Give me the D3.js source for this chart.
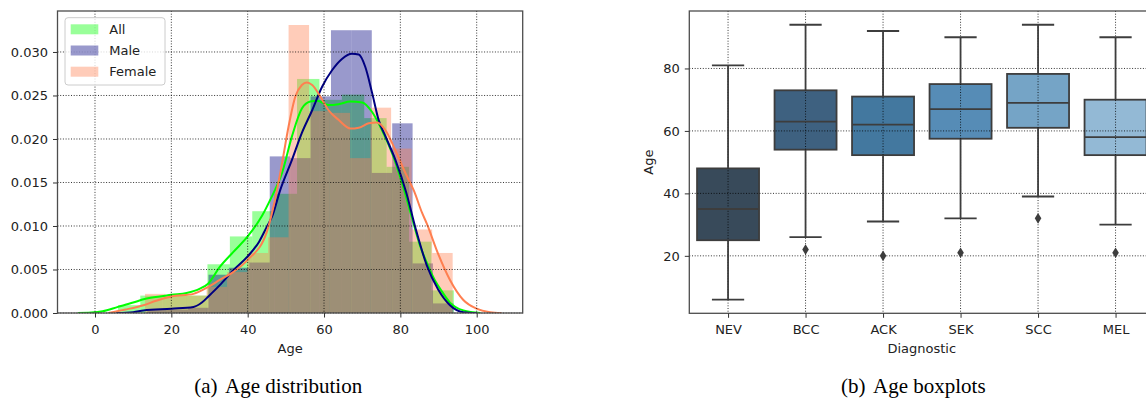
<!DOCTYPE html>
<html><head><meta charset="utf-8">
<script src="https://cdn.jsdelivr.net/npm/d3@7"></script>
<style>
body{margin:0;background:#fff}
svg{display:block}
</style>
</head><body>
<svg id="c" width="1146" height="401"></svg>
<script>
// ---------------- DATA ----------------
const seriesNames = ["All", "Male", "Female"];

// histogram bin ranges (age) and densities per equal-width bin
const allBinRange = [6, 94];
const allHist = [0.0009, 0.0020, 0.0020, 0.0020, 0.0056, 0.0088, 0.0117, 0.0137, 0.0269, 0.0245, 0.0251, 0.0224, 0.0168, 0.0082, 0.0026];
const maleBinRange = [13.7, 93.9];
const maleHist = [0.0004, 0.0004, 0.0006, 0.0044, 0.0052, 0.0058, 0.0180, 0.0178, 0.0249, 0.0325, 0.0325, 0.0161, 0.0218, 0.0057, 0.0011];
const femaleBinRange = [13.1, 93.7];
const femaleHist = [0.0022, 0.0020, 0.0020, 0.0030, 0.0047, 0.0069, 0.0087, 0.0331, 0.0232, 0.0230, 0.0178, 0.0236, 0.0189, 0.0096, 0.0069];

// KDE curves: [age, density]
const allKde = [[-4.5,0],[-1,0.00005],[2,0.0002],[6,0.0007],[10,0.0012],[13,0.0016],[17,0.0019],[20,0.0021],[24,0.0023],[27.5,0.0028],[29.7,0.0034],[32.7,0.0053],[36.2,0.0070],[40,0.0088],[43.8,0.0112],[45.9,0.0130],[49,0.0161],[51.6,0.0203],[54.2,0.0235],[56.4,0.0243],[58.2,0.0244],[61.2,0.0239],[63.8,0.0240],[66.9,0.0243],[70,0.0242],[72.6,0.0231],[75.2,0.0210],[77.8,0.0184],[80.4,0.0150],[83,0.0110],[85.1,0.0078],[87,0.0057],[89,0.0038],[91,0.0024],[93,0.0012],[96.5,0.0003],[101,0]];
const maleKde = [[5.5,0],[10,0.0001],[12.7,0.0003],[20,0.0005],[25.8,0.0007],[28,0.0012],[29.7,0.0019],[32.7,0.0032],[36.2,0.0049],[40,0.0065],[43,0.0082],[45,0.0099],[46.4,0.0111],[48.5,0.0141],[51.6,0.0176],[54.2,0.0207],[56.9,0.0233],[59.5,0.0260],[62.1,0.0279],[64.7,0.0292],[67.3,0.0298],[69.1,0.0297],[70.8,0.0283],[72.6,0.0253],[74.3,0.0222],[76.1,0.0203],[78.7,0.0176],[81.5,0.0139],[84,0.0097],[86.9,0.0055],[89.9,0.0027],[93,0.0009],[96.5,0.0001],[100,0]];
const femaleKde = [[3.5,0],[8,0.0004],[12.7,0.0009],[16,0.0014],[20,0.0019],[25.8,0.0022],[29.7,0.0030],[32.7,0.0038],[36.2,0.0047],[40,0.0061],[45,0.0093],[47,0.0127],[49,0.0172],[50.7,0.0214],[52.5,0.0249],[54.2,0.0262],[55.5,0.0265],[56.9,0.0262],[59,0.0249],[61.2,0.0233],[63.8,0.0222],[66.9,0.0212],[69.1,0.0213],[71.7,0.0218],[73.9,0.0219],[76.1,0.0210],[78.7,0.0187],[81.3,0.0161],[83.6,0.0140],[85.7,0.0115],[86.9,0.0103],[89.9,0.0068],[93,0.0038],[96.5,0.0015],[100,0.0005],[103.5,0.0001],[106.5,0]];

const distXTicks = [0, 20, 40, 60, 80, 100];
const distYTicks = [0, 0.005, 0.010, 0.015, 0.020, 0.025, 0.030];

const diagnostics = ["NEV", "BCC", "ACK", "SEK", "SCC", "MEL"];
const boxLowWhisker  = [6, 26, 31, 32, 39, 30];
const boxQ1          = [25, 54, 52.25, 57.5, 61, 52.25];
const boxMedian      = [35, 63, 62, 67, 69, 58];
const boxQ3          = [48, 73, 71, 75, 78.25, 70];
const boxHighWhisker = [81, 94, 92, 90, 94, 90];
const boxOutliers    = [[], [22], [20], [21], [32], [21]];
const boxYTicks = [20, 40, 60, 80];

// ---------------- STYLE ----------------
const seriesColors = ["#00ff00", "#000080", "#ff7f50"];
const boxPalette = ["#384a5a", "#3e6180", "#43789f", "#568cb6", "#75a4c6", "#93b9d5"];
const lineGray = "#3d3d3d";
const FONT = "DejaVu Sans";

const svg = d3.select("#c");

function styleAxis(g) {
  g.attr("font-family", FONT).attr("font-size", 13);
  g.select(".domain").remove();
  g.selectAll(".tick line").attr("stroke", "#333").attr("stroke-width", 1);
  g.selectAll(".tick text").attr("fill", "#222");
}
function gridLine(g, x1, y1, x2, y2) {
  g.append("line").attr("x1", x1).attr("y1", y1).attr("x2", x2).attr("y2", y2)
    .attr("stroke", "#000").attr("stroke-width", 0.8).attr("stroke-dasharray", "1,1.7");
}

// ================= LEFT: Age distribution =================
const L = {left: 57.5, right: 522.7, top: 11, bottom: 313};
const xD = d3.scaleLinear().domain([-9.82, 112.05]).range([L.left, L.right]);
const yD = d3.scaleLinear().domain([0, 0.03471]).range([L.bottom, L.top]);

svg.append("clipPath").attr("id", "clipL").append("rect")
  .attr("x", L.left).attr("y", L.top).attr("width", L.right - L.left).attr("height", L.bottom - L.top);

const gL = svg.append("g");
const plotL = gL.append("g").attr("clip-path", "url(#clipL)");

const histSets = [
  {range: allBinRange, vals: allHist},
  {range: maleBinRange, vals: maleHist},
  {range: femaleBinRange, vals: femaleHist}
];
histSets.forEach((h, si) => {
  const n = h.vals.length, w = (h.range[1] - h.range[0]) / n;
  plotL.append("g").selectAll("rect").data(h.vals).join("rect")
    .attr("x", (d, i) => xD(h.range[0] + i * w))
    .attr("width", (d, i) => xD(h.range[0] + (i + 1) * w) - xD(h.range[0] + i * w))
    .attr("y", d => yD(d))
    .attr("height", d => yD(0) - yD(d))
    .attr("fill", seriesColors[si]).attr("fill-opacity", 0.4);
});

// grid
const gridL = gL.append("g");
distXTicks.forEach(t => gridLine(gridL, xD(t), L.top, xD(t), L.bottom));
distYTicks.forEach(t => gridLine(gridL, L.left, yD(t), L.right, yD(t)));

// KDE lines
const kdeLine = d3.line().x(d => xD(d[0])).y(d => yD(d[1])).curve(d3.curveMonotoneX);
[allKde, maleKde, femaleKde].forEach((k, si) => {
  plotL.append("path").attr("d", kdeLine(k)).attr("fill", "none")
    .attr("stroke", seriesColors[si]).attr("stroke-width", 2).attr("stroke-linejoin", "round");
});

// frame
gL.append("rect").attr("x", L.left).attr("y", L.top).attr("width", L.right - L.left).attr("height", L.bottom - L.top)
  .attr("fill", "none").attr("stroke", "#4d4d4d").attr("stroke-width", 1.3);

// axes
gL.append("g").attr("transform", `translate(0,${L.bottom})`)
  .call(d3.axisBottom(xD).tickValues(distXTicks).tickSize(4.5).tickPadding(7).tickFormat(d3.format("d")))
  .call(styleAxis);
gL.append("g").attr("transform", `translate(${L.left},0)`)
  .call(d3.axisLeft(yD).tickValues(distYTicks).tickSize(4.5).tickPadding(5).tickFormat(d3.format(".3f")))
  .call(styleAxis);

gL.append("text").attr("x", (L.left + L.right) / 2).attr("y", 352.5).attr("text-anchor", "middle")
  .attr("font-family", FONT).attr("font-size", 13).attr("fill", "#222").text("Age");

// legend
const leg = gL.append("g");
leg.append("rect").attr("x", 65).attr("y", 17.7).attr("width", 100).attr("height", 67.3).attr("rx", 3)
  .attr("fill", "#fff").attr("fill-opacity", 0.8).attr("stroke", "#cccccc").attr("stroke-width", 1);
seriesNames.forEach((name, i) => {
  const cy = 29.3 + i * 21.2;
  leg.append("rect").attr("x", 70.7).attr("y", cy - 5).attr("width", 27.6).attr("height", 10)
    .attr("fill", seriesColors[i]).attr("fill-opacity", 0.4);
  leg.append("text").attr("x", 109.3).attr("y", cy + 4.7)
    .attr("font-family", FONT).attr("font-size", 13).attr("fill", "#222").text(name);
});

// caption
const capA = svg.append("text").attr("x", 194.3).attr("y", 393)
  .attr("font-family", "Liberation Serif").attr("font-size", 21).attr("fill", "#000");
capA.append("tspan").text("(a)");
capA.append("tspan").attr("dx", 7.5).text("Age distribution");

// ================= RIGHT: Age boxplots =================
const R = {left: 689.3, right: 1154.3, top: 11, bottom: 313.3};
const xB = d3.scalePoint().domain(diagnostics).range([R.left, R.right]).padding(0.5);
const yB = d3.scaleLinear().domain([1.6, 98.4]).range([R.bottom, R.top]);
const boxW = xB.step() * 0.8;
const capW = boxW * 0.52;

const gR = svg.append("g");
const boxes = diagnostics.map((d, i) => ({
  name: d, lo: boxLowWhisker[i], q1: boxQ1[i], med: boxMedian[i], q3: boxQ3[i], hi: boxHighWhisker[i], out: boxOutliers[i], color: boxPalette[i]
}));

// boxes (patches)
gR.append("g").selectAll("rect").data(boxes).join("rect")
  .attr("x", d => xB(d.name) - boxW / 2).attr("width", boxW)
  .attr("y", d => yB(d.q3)).attr("height", d => yB(d.q1) - yB(d.q3))
  .attr("fill", d => d.color).attr("stroke", lineGray).attr("stroke-width", 1.8);

// grid
const gridR = gR.append("g");
diagnostics.forEach(c => gridLine(gridR, xB(c), R.top, xB(c), R.bottom));
boxYTicks.forEach(t => gridLine(gridR, R.left, yB(t), R.right, yB(t)));

// whiskers, caps, medians, outliers
const lines = gR.append("g").attr("stroke", lineGray).attr("stroke-width", 1.8);
boxes.forEach(d => {
  const cx = xB(d.name);
  lines.append("line").attr("x1", cx).attr("x2", cx).attr("y1", yB(d.q3)).attr("y2", yB(d.hi));
  lines.append("line").attr("x1", cx).attr("x2", cx).attr("y1", yB(d.q1)).attr("y2", yB(d.lo));
  lines.append("line").attr("x1", cx - capW / 2).attr("x2", cx + capW / 2).attr("y1", yB(d.hi)).attr("y2", yB(d.hi));
  lines.append("line").attr("x1", cx - capW / 2).attr("x2", cx + capW / 2).attr("y1", yB(d.lo)).attr("y2", yB(d.lo));
  lines.append("line").attr("x1", cx - boxW / 2).attr("x2", cx + boxW / 2).attr("y1", yB(d.med)).attr("y2", yB(d.med));
  d.out.forEach(o => {
    gR.append("path").attr("transform", `translate(${cx},${yB(o)})`)
      .attr("d", "M0,-5.3L3.3,0L0,5.3L-3.3,0Z").attr("fill", lineGray);
  });
});

// frame
gR.append("rect").attr("x", R.left).attr("y", R.top).attr("width", R.right - R.left).attr("height", R.bottom - R.top)
  .attr("fill", "none").attr("stroke", "#4d4d4d").attr("stroke-width", 1.3);

gR.append("g").attr("transform", `translate(0,${R.bottom})`)
  .call(d3.axisBottom(xB).tickSize(4.5).tickPadding(7))
  .call(styleAxis);
gR.append("g").attr("transform", `translate(${R.left},0)`)
  .call(d3.axisLeft(yB).tickValues(boxYTicks).tickSize(4.5).tickPadding(5).tickFormat(d3.format("d")))
  .call(styleAxis);

gR.append("text").attr("x", (R.left + R.right) / 2).attr("y", 352.5).attr("text-anchor", "middle")
  .attr("font-family", FONT).attr("font-size", 13).attr("fill", "#222").text("Diagnostic");
gR.append("text").attr("transform", `translate(652.7,${(R.top + R.bottom) / 2}) rotate(-90)`).attr("text-anchor", "middle")
  .attr("font-family", FONT).attr("font-size", 13).attr("fill", "#222").text("Age");

const capB = svg.append("text").attr("x", 841).attr("y", 393)
  .attr("font-family", "Liberation Serif").attr("font-size", 21).attr("fill", "#000");
capB.append("tspan").text("(b)");
capB.append("tspan").attr("dx", 7.5).text("Age boxplots");
</script>
</body></html>
